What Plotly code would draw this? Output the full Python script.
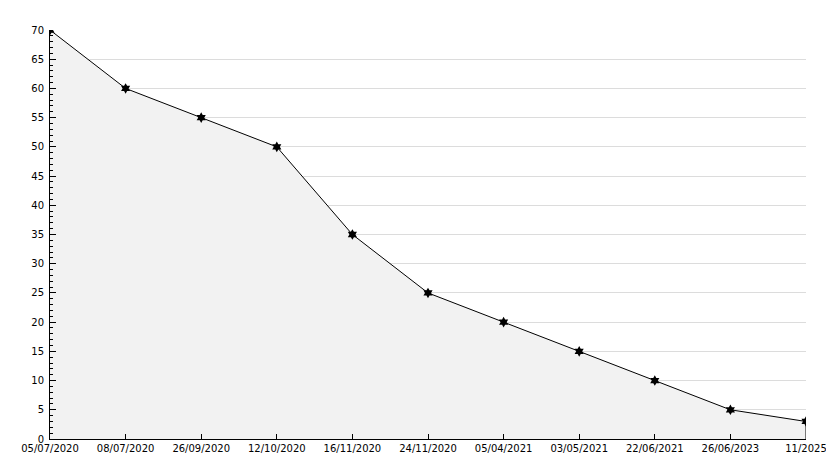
import plotly.graph_objects as go

# dates along the bottom and the values at each one
dates = ['05/07/2020', '08/07/2020', '26/09/2020', '12/10/2020', '16/11/2020',
         '24/11/2020', '05/04/2021', '03/05/2021', '22/06/2021', '26/06/2023', '11/2025']
values = [70, 60, 55, 50, 35, 25, 20, 15, 10, 5, 3]
y_ticks = list(range(0, 75, 5))

fig = go.Figure()

fig.add_trace(go.Scatter(
    x=dates, y=values,
    mode='lines+markers',
    fill='tozeroy',
    fillcolor='#f2f2f2',
    line=dict(color='black', width=1),
    marker=dict(symbol='hexagram', size=8, color='black'),
    hoverinfo='skip',
))

# closing edge of the area at the last point
fig.add_shape(type='line', xref='x', yref='y',
              x0=dates[-1], x1=dates[-1], y0=0, y1=values[-1],
              line=dict(color='black', width=1))

# page has an 8px body margin, so offset margins accordingly
fig.update_layout(
    width=831, height=458,
    margin=dict(l=42, r=21, t=22, b=22),
    plot_bgcolor='white',
    paper_bgcolor='white',
    showlegend=False,
    font=dict(family='DejaVu Sans', size=10, color='black'),
)

fig.update_xaxes(
    type='category',
    range=[0, len(dates) - 1],
    showgrid=False,
    showline=True, linecolor='black', linewidth=1,
    ticks='inside', ticklen=5, tickcolor='black',
    tickfont=dict(size=10),
    zeroline=False,
)

fig.update_yaxes(
    range=[0, 70],
    tickvals=y_ticks,
    showgrid=True, gridcolor='#dcdcdc', gridwidth=1,
    showline=True, linecolor='black', linewidth=1,
    ticks='inside', ticklen=6, tickcolor='black',
    ticklabelstandoff=3,
    minor=dict(dtick=1, ticks='inside', ticklen=3, tickcolor='black', showgrid=False),
    tickfont=dict(size=10),
    zeroline=False,
)

fig.write_html('out.html')
